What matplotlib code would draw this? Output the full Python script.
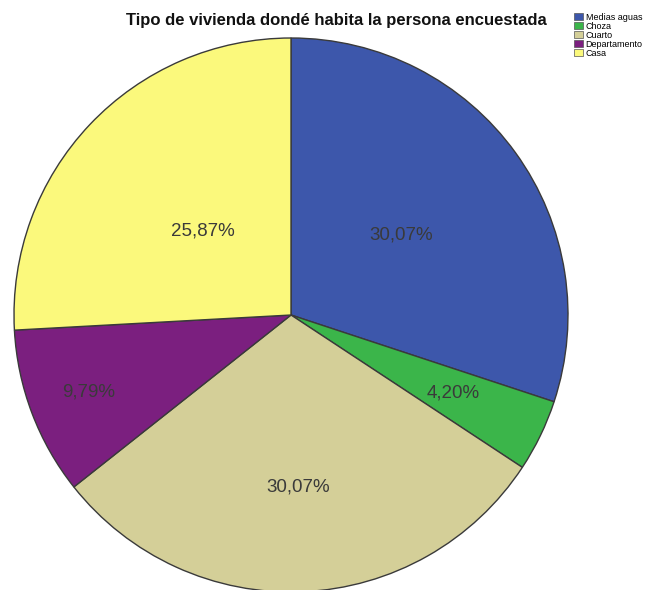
import numpy as np
import matplotlib.pyplot as plt
from matplotlib.patches import Patch

plt.rcParams["font.family"] = ["Liberation Sans", "DejaVu Sans"]

categories = ["Medias aguas", "Choza", "Cuarto", "Departamento", "Casa"]
percentages = [30.07, 4.20, 30.07, 9.79, 25.87]
pct_labels = ["30,07%", "4,20%", "30,07%", "9,79%", "25,87%"]
colors = ["#3D57AB", "#3BB54A", "#D4CF98", "#7B1F7F", "#FBF97C"]
label_radius = [0.49, 0.65, 0.62, 0.78, 0.44]

fig = plt.figure(figsize=(6.72, 5.90), dpi=100)

# pie centre and radius in pixels
cx, cy, r = 291, 590 - 315, 277
ax = fig.add_axes([(cx - r) / 672, (cy - r) / 590, 2 * r / 672, 2 * r / 590])

wedges, _ = ax.pie(percentages, colors=colors, startangle=90, counterclock=False,
                   radius=1.0,
                   wedgeprops=dict(edgecolor="#3a3a3a", linewidth=1.0))
ax.set_xlim(-1, 1)
ax.set_ylim(-1, 1)
ax.set_aspect("auto")
ax.axis("off")

for w, txt, d in zip(wedges, pct_labels, label_radius):
    mid = np.deg2rad((w.theta1 + w.theta2) / 2)
    ax.text(d * np.cos(mid), d * np.sin(mid), txt, ha="center", va="center",
            fontsize=13.5, color="#3a3a3a")

fig.text(0.5, 1 - 21 / 590, "Tipo de vivienda dondé habita la persona encuestada",
         ha="center", va="center", fontsize=12, fontweight="bold", color="#111111")

handles = [Patch(facecolor=c, edgecolor="#555555", linewidth=0.5) for c in colors]
fig.legend(handles, categories, loc="upper left", bbox_to_anchor=(572 / 672, 1 - 11 / 590),
           frameon=False, fontsize=6.5, handlelength=1.0, handleheight=0.8,
           handletextpad=0.3, labelspacing=0.0, borderpad=0.2, borderaxespad=0)

fig.savefig("out.png", dpi=100)
